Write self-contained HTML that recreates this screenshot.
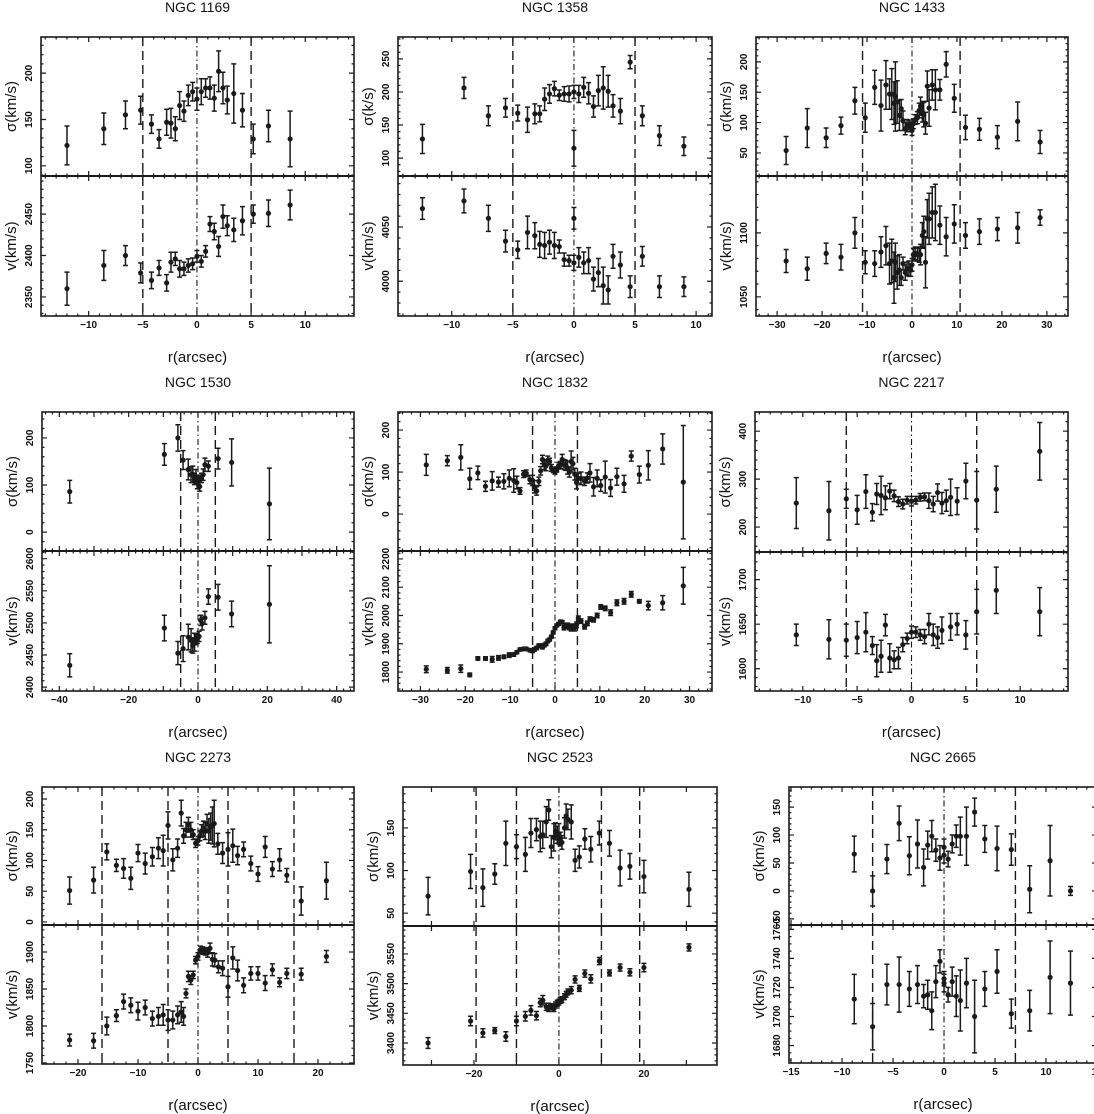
<!DOCTYPE html>
<html><head><meta charset="utf-8">
<style>
html,body{margin:0;padding:0;background:#fff;}
svg{display:block;}
text{font-family:"Liberation Sans",sans-serif;fill:#111;}
.tick{font-size:10px;font-weight:bold;}
.ttl{font-size:14px;}
.lab{font-size:15px;}
</style></head>
<body>
<svg id="fig" width="1094" height="1114" viewBox="0 0 1094 1114" xmlns="http://www.w3.org/2000/svg"></svg>
<script>
// ---- data (r in arcsec, sigma & v in km/s, symmetric errors) ----
const n1169_r    = [-12,-8.6,-6.6,-5.2,-4.2,-3.5,-2.8,-2.4,-2,-1.6,-1.2,-0.8,-0.4,0,0.4,0.8,1.2,1.6,2,2.4,2.8,3.4,4.2,5.2,6.6,8.6];
const n1169_sig  = [122,140,155,160,145,129,147,146,140,165,159,176,180,172,180,184,184,173,202,184,171,178,160,129,143,129];
const n1169_sigE = [21,17,15,15,10,10,14,16,13,15,11,11,10,12,14,10,12,14,22,17,15,32,18,16,17,30];
const n1169_v    = [2360,2388,2400,2379,2370,2385,2367,2392,2396,2384,2384,2388,2390,2399,2393,2405,2438,2429,2411,2447,2436,2431,2442,2450,2451,2461];
const n1169_vE   = [20,18,12,12,10,9,10,12,8,10,8,8,7,7,7,7,9,10,12,14,12,14,17,11,16,18];

const n1358_r    = [-12.4,-9,-7,-5.6,-4.6,-3.8,-3.2,-2.8,-2.4,-2,-1.6,-1.2,-0.8,-0.4,0,0,0.4,0.8,1.2,1.6,2,2.4,2.8,3.2,3.8,4.6,5.6,7,9];
const n1358_sig  = [129,206,164,176,168,158,167,167,189,197,205,195,197,197,200,115,197,207,198,178,202,206,201,179,171,245,164,134,118];
const n1358_sigE = [22,16,15,14,12,19,15,12,17,14,11,8,11,12,10,27,13,15,16,16,23,32,24,17,19,10,15,15,14];
const n1358_v    = [4067,4074,4058,4037,4029,4045,4042,4034,4033,4036,4033,4032,4020,4019,4017,4058,4022,4017,4019,4002,4008,3996,3992,4023,4015,3995,4023,3995,3995];
const n1358_vE   = [10,11,12,10,8,15,12,12,12,11,12,6,6,5,7,10,9,10,12,11,13,17,13,11,12,10,9,10,9];

const n1433_r    = [-28,-23.3,-19.1,-15.8,-12.7,-10.4,-8.3,-6.9,-5.8,-5,-4.5,-4,-3.7,-3.3,-2.8,-2.4,-2,-1.5,-1.1,-0.7,-0.3,0,0.3,0.7,1.2,1.6,1.9,2.3,2.6,3,3.4,3.8,4.5,5.2,6.2,7.6,9.4,11.9,15,19,23.5,28.5];
const n1433_sig  = [54,91,75,95,136,108,158,128,162,147,147,132,143,134,112,123,103,90,95,96,93,87,98,105,108,120,127,118,113,99,160,124,162,154,154,196,140,92,89,76,102,68];
const n1433_sigE = [23,32,16,14,22,24,28,42,40,25,42,35,57,35,25,15,16,10,10,8,8,8,8,8,10,12,15,17,20,18,25,30,25,33,17,21,23,20,18,19,32,19];
const n1433_v    = [1078,1072,1084,1081,1100,1077,1076,1085,1090,1076,1078,1065,1077,1069,1071,1065,1076,1069,1072,1072,1071,1075,1083,1084,1083,1083,1083,1098,1101,1077,1111,1111,1116,1116,1106,1097,1107,1098,1101,1103,1104,1112];
const n1433_vE   = [9,9,8,10,12,9,10,12,15,16,17,20,15,13,12,6,5,6,5,6,5,5,5,5,5,6,8,10,12,20,15,20,20,22,15,15,15,10,10,9,12,6];

const n1530_r    = [-37,-9.7,-5.8,-4.3,-2.8,-2,-1.5,-1,-0.6,-0.2,0.2,0.5,1,1.5,2,3,5.8,9.7,20.6];
const n1530_sig  = [86,165,200,153,133,122,123,113,118,104,109,97,115,122,143,140,156,148,60];
const n1530_sigE = [24,23,28,20,22,17,17,12,15,12,12,10,10,12,14,11,22,50,76];
const n1530_vr   = [-37,-9.7,-5.8,-4.3,-2.8,-2,-1.5,-1,-0.6,-0.2,0.3,0.8,1.2,2,3,5.8,9.7,20.6];
const n1530_v    = [2434,2492,2453,2460,2478,2473,2465,2470,2474,2476,2479,2504,2499,2508,2541,2540,2514,2529];
const n1530_vE   = [18,20,18,20,20,18,12,14,8,8,8,8,10,10,12,20,20,60];

const n1832_r    = [-28.7,-24,-21,-19,-17.2,-15.5,-14,-12.6,-11.4,-10.2,-9.2,-8.5,-7.8,-7,-6.4,-5.6,-5,-4.6,-4.1,-3.6,-3.2,-2.8,-2.4,-2,-1.6,-1.2,-0.8,-0.4,0,0.4,0.8,1.2,1.6,2,2.4,2.8,3.2,3.6,4,4.4,4.8,5.2,5.8,6.6,7.2,7.8,8.6,9.4,10.2,11.2,12.4,13.8,15.4,17,18.8,20.8,24,28.6];
const n1832_sig  = [117,127,135,84,98,66,79,76,78,85,80,75,55,95,97,82,80,65,55,78,103,130,118,115,128,125,110,105,100,106,115,117,130,118,116,110,100,125,120,95,75,85,85,78,86,98,65,85,68,88,62,89,72,138,94,116,155,76];
const n1832_sigE = [25,12,30,25,16,12,22,12,18,20,28,15,8,8,8,10,12,15,10,10,10,10,12,12,10,8,8,6,5,6,8,8,12,12,12,15,12,25,15,14,15,12,15,10,12,22,22,20,14,38,20,20,20,12,20,35,36,135];
const n1832_v    = [1810,1806,1812,1790,1848,1848,1845,1850,1854,1860,1862,1870,1880,1882,1882,1877,1875,1880,1885,1893,1893,1888,1895,1900,1910,1915,1925,1940,1955,1965,1970,1978,1977,1957,1963,1965,1960,1957,1960,1957,1967,1990,1980,1960,1972,1987,1985,2000,2030,2025,2010,2045,2050,2075,2050,2035,2045,2105];
const n1832_vE   = [12,10,13,6,6,6,10,8,6,8,6,5,5,5,5,5,6,6,6,6,6,6,6,6,6,5,5,5,5,5,5,5,5,8,8,8,10,12,10,12,10,8,8,8,8,8,8,8,8,8,10,10,10,10,6,15,25,65];

const n2217_r    = [-10.6,-7.6,-6,-5,-4.2,-3.6,-3.2,-2.8,-2.4,-2,-1.6,-1.2,-0.8,-0.4,0,0.4,0.8,1.2,1.6,2,2.4,2.8,3.2,3.6,4.2,5,6,7.8,11.8];
const n2217_sig  = [250,234,259,236,274,231,269,266,261,275,265,253,248,256,254,256,262,263,255,248,272,250,255,262,254,296,256,279,358];
const n2217_sigE = [53,61,20,30,35,18,22,40,25,16,12,10,10,8,10,8,8,8,16,16,18,22,22,38,28,37,60,48,60];
const n2217_vr   = [-10.6,-7.6,-6,-5,-4.2,-3.6,-3.2,-2.8,-2.4,-2,-1.6,-1.2,-0.8,-0.4,0,0.4,0.8,1.2,1.6,2,2.4,2.8,3.6,4.2,5,6,7.8,11.8];
const n2217_v    = [1638,1633,1632,1635,1641,1626,1609,1614,1649,1612,1610,1612,1627,1634,1641,1641,1638,1636,1650,1638,1635,1643,1647,1650,1638,1664,1688,1664];
const n2217_vE   = [12,22,18,18,22,10,18,18,12,16,10,12,8,6,7,6,6,8,12,12,12,15,15,12,16,25,26,27];

const n2273_r    = [-21.4,-17.4,-15.2,-13.6,-12.4,-11.2,-10,-8.8,-7.6,-6.6,-5.8,-5,-4.2,-3.4,-2.8,-2.4,-2,-1.6,-1.2,-0.8,-0.4,0,0.3,0.6,0.9,1.2,1.5,1.8,2.1,2.4,2.7,3.3,4.1,5,5.8,6.6,7.6,8.8,10,11.2,12.4,13.6,14.8,17.2,21.4];
const n2273_sig  = [51,68,114,92,87,71,112,95,106,120,116,157,101,120,177,140,150,158,150,142,128,132,140,148,152,148,160,148,155,157,160,127,112,118,124,108,118,95,78,122,86,101,76,34,67];
const n2273_sigE = [22,21,13,10,16,18,14,17,15,17,25,22,18,15,21,12,12,12,12,8,7,7,8,10,12,14,15,20,22,30,38,17,17,27,27,15,12,12,12,17,12,18,11,23,30];
const n2273_vr   = [-21.4,-17.4,-15.2,-13.6,-12.4,-11.2,-10,-8.8,-7.6,-6.6,-5.8,-5,-4.2,-3.4,-2.8,-2.4,-2,-1.6,-1.2,-0.8,-0.4,0,0.4,0.8,1.2,1.6,2,2.4,2.8,3.4,4.1,5,5.8,6.6,7.6,8.8,10,11.2,12.4,13.6,14.8,17.2,21.4];
const n2273_v    = [1781,1780,1800,1814,1833,1828,1820,1825,1810,1813,1815,1808,1808,1815,1819,1813,1844,1867,1862,1869,1889,1894,1903,1902,1901,1899,1905,1890,1889,1880,1878,1853,1892,1875,1855,1871,1871,1858,1876,1859,1871,1870,1894];
const n2273_vE   = [8,10,12,8,10,10,12,10,10,12,14,14,12,12,14,12,6,7,6,5,5,5,5,5,5,6,7,9,9,8,10,14,15,14,10,9,9,10,8,6,7,8,8];

const n2523_r    = [-30.8,-20.8,-17.9,-15.1,-12.5,-10,-7.9,-6.6,-5.3,-4.4,-3.8,-3,-2.4,-1.8,-1.2,-0.8,-0.4,0,0.3,0.7,1.3,1.7,2.1,2.9,3.8,4.8,6.1,7.5,9.5,11.9,14.4,16.7,20,30.6];
const n2523_sig  = [70,99,80,96,132,128,119,144,148,140,142,157,171,128,139,146,142,143,137,133,150,164,160,157,112,116,137,125,144,132,103,105,93,78];
const n2523_sigE = [22,20,22,12,26,14,20,17,13,18,16,18,12,13,16,10,10,12,8,8,12,14,12,20,13,13,12,15,14,15,21,15,19,20];
const n2523_v    = [3400,3437,3417,3421,3411,3437,3445,3455,3446,3468,3472,3461,3460,3461,3458,3464,3467,3469,3472,3473,3478,3482,3486,3489,3507,3492,3517,3508,3538,3518,3527,3519,3527,3561];
const n2523_vE   = [9,8,7,5,8,8,8,8,7,7,8,6,7,5,5,5,5,5,5,5,5,5,5,6,6,5,6,7,6,5,6,6,7,6];

const n2665_r    = [-8.8,-7,-5.6,-4.4,-3.4,-2.6,-2,-1.6,-1.2,-0.8,-0.4,0,0,0.4,0.8,1.2,1.6,2.2,3,4,5.2,6.6,8.4,10.4,12.4];
const n2665_sig  = [66,0,57,121,63,84,42,82,98,73,59,78,64,57,84,98,98,98,141,93,76,74,3,54,0];
const n2665_sigE = [32,27,26,31,34,43,33,25,28,20,22,15,14,14,16,20,34,52,25,24,40,28,42,63,8];
const n2665_v    = [1712,1693,1722,1722,1719,1722,1714,1715,1704,1724,1738,1726,1723,1715,1724,1714,1711,1723,1700,1719,1731,1702,1704,1727,1723];
const n2665_vE   = [17,16,14,19,12,13,8,10,13,11,8,5,6,5,10,14,21,17,25,12,15,10,14,25,22];

// ---- panel layout (pixel geometry + axis ranges) ----
const panels = [
 {id:'ngc-1169',title:'NGC 1169',L:41,R:354,T:37,M:176,B:316,x:[-14.4,14.5],xs:[5,1,5],s:[89,239],ss:[50,10],v:[2327,2496],vs:[50,10],sl:'σ(km/s)',
  r:n1169_r,sig:n1169_sig,sigE:n1169_sigE,vr:n1169_r,vv:n1169_v,vE:n1169_vE,dash:[-5,5]},
 {id:'ngc-1358',title:'NGC 1358',L:398,R:712,T:37,M:176,B:316,x:[-14.4,11.3],xs:[5,1,5],s:[73,283],ss:[50,10],v:[3968,4097],vs:[50,10],sl:'σ(k/s)',
  r:n1358_r,sig:n1358_sig,sigE:n1358_sigE,vr:n1358_r,vv:n1358_v,vE:n1358_vE,dash:[-5,5]},
 {id:'ngc-1433',title:'NGC 1433',L:756,R:1068,T:37,M:176,B:316,x:[-34.7,34.7],xs:[10,2,10],s:[12,241],ss:[50,10],v:[1035,1144.5],vs:[50,10],sl:'σ(km/s)',
  r:n1433_r,sig:n1433_sig,sigE:n1433_sigE,vr:n1433_r,vv:n1433_v,vE:n1433_vE,dash:[-11,10.7]},
 {id:'ngc-1530',title:'NGC 1530',L:42,R:354,T:412,M:551,B:691,x:[-45,45],xs:[10,2,20],s:[-40,255],ss:[100,20],v:[2394,2612],vs:[50,10],sl:'σ(km/s)',
  r:n1530_r,sig:n1530_sig,sigE:n1530_sigE,vr:n1530_vr,vv:n1530_v,vE:n1530_vE,dash:[-5,5]},
 {id:'ngc-1832',title:'NGC 1832',L:398,R:712,T:412,M:551,B:691,x:[-35,35],xs:[10,2,10],s:[-88,243],ss:[100,20],v:[1733,2228],vs:[100,20],sl:'σ(km/s)',
  r:n1832_r,sig:n1832_sig,sigE:n1832_sigE,vr:n1832_r,vv:n1832_v,vE:n1832_vE,dash:[-5,5]},
 {id:'ngc-2217',title:'NGC 2217',L:755,R:1068,T:412,M:552,B:691,x:[-14.4,14.4],xs:[5,1,5],s:[148,440],ss:[100,20],v:[1575,1731],vs:[50,10],sl:'σ(km/s)',
  r:n2217_r,sig:n2217_sig,sigE:n2217_sigE,vr:n2217_vr,vv:n2217_v,vE:n2217_vE,dash:[-6,6]},
 {id:'ngc-2273',title:'NGC 2273',L:42,R:354,T:787,M:925,B:1064,x:[-26,26],xs:[10,2,10],s:[-5,219.5],ss:[50,10],v:[1748.6,1936.5],vs:[50,10],sl:'σ(km/s)',
  r:n2273_r,sig:n2273_sig,sigE:n2273_sigE,vr:n2273_vr,vv:n2273_v,vE:n2273_vE,dash:[-16,-5,5,16]},
 {id:'ngc-2523',title:'NGC 2523',L:403,R:717,T:787,M:926,B:1065,x:[-36.7,37.2],xs:[10,0,20],s:[35,198],ss:[50,10],v:[3363,3597],vs:[50,10],sl:'σ(km/s)',
  r:n2523_r,sig:n2523_sig,sigE:n2523_sigE,vr:n2523_r,vv:n2523_v,vE:n2523_vE,dash:[-19.5,-10,10,19]},
 {id:'ngc-2665',title:'NGC 2665',L:789,R:1097,T:787,M:925,B:1063,x:[-15.2,15],xs:[5,1,5],s:[-61,186],ss:[50,10],v:[1668,1763],vs:[20,5],sl:'σ(km/s)',
  r:n2665_r,sig:n2665_sig,sigE:n2665_sigE,vr:n2665_r,vv:n2665_v,vE:n2665_vE,dash:[-7,7]}
];

const NS='http://www.w3.org/2000/svg';
const svg=document.getElementById('fig');
function mk(tag,attrs,parent){const e=document.createElementNS(NS,tag);for(const k in attrs)e.setAttribute(k,attrs[k]);(parent||svg).appendChild(e);return e;}
const C='#1a1a1a';

panels.forEach(p=>{
  const g=mk('g',{});
  
  
  const X=r=>p.L+(r-p.x[0])/(p.x[1]-p.x[0])*(p.R-p.L);
  const YS=s=>p.M-(s-p.s[0])/(p.s[1]-p.s[0])*(p.M-p.T);
  const YV=v=>p.B-(v-p.v[0])/(p.v[1]-p.v[0])*(p.B-p.M);
  const cx=(p.L+Math.min(p.R,1094))/2;
  // title
  const t=mk('text',{x:(p.L+p.R)/2,y:p.T-25,'text-anchor':'middle',class:'ttl'},g);t.textContent=p.title;
  
  
  // x label
  const xl=mk('text',{x:(p.L+p.R)/2,y:p.B+46,'text-anchor':'middle',class:'lab'},g);xl.textContent='r(arcsec)';
  
  
  // y labels
  [[p.sl,(p.T+p.M)/2,'sigma-axis-title'],['v(km/s)',(p.M+p.B)/2,'velocity-axis-title']].forEach(a=>{
    const yl=mk('text',{x:p.L-30,y:a[1],'text-anchor':'middle',transform:`rotate(-90 ${p.L-30} ${a[1]})`,class:'lab',dy:'5'},g);
    yl.textContent=a[0];
    
    
  });
  // frame
  const fr=mk('rect',{x:p.L,y:p.T,width:p.R-p.L,height:p.B-p.T,fill:'none',stroke:C,'stroke-width':1.6},g);
  
  
  const ml=mk('line',{x1:p.L,x2:p.R,y1:p.M,y2:p.M,stroke:C,'stroke-width':2},g);
  
  
  // x ticks
  const [maj,mnr,lab]=p.xs;
  const tk=[];
  function xt(step,len){ if(!step)return; for(let r=Math.ceil(p.x[0]/step)*step;r<=p.x[1]+1e-9;r+=step){const x=X(r);
    tk.push(`M${x} ${p.T}v${len}M${x} ${p.B}v${-len}M${x} ${p.M-len}v${2*len}`);}}
  xt(mnr,2.5);xt(maj,5);
  for(let r=Math.ceil(p.x[0]/lab)*lab;r<=p.x[1]+1e-9;r+=lab){
    const tl=mk('text',{x:X(r),y:p.B+12,'text-anchor':'middle',class:'tick'},g);
    tl.textContent=(r<0?'−':'')+Math.abs(Math.round(r));
    
    
  }
  // y ticks
  function yt(rng,st,Y,y0,y1){
    const [mj,mn]=st;
    for(let s=Math.ceil(rng[0]/mn)*mn;s<=rng[1]+1e-9;s+=mn){const y=Y(s);if(y<y0-0.5||y>y1+0.5)continue;const len=(Math.abs(s/mj-Math.round(s/mj))<1e-6)?5:2.5;
      tk.push(`M${p.L} ${y}h${len}M${p.R} ${y}h${-len}`);}
    for(let s=Math.ceil(rng[0]/mj)*mj;s<=rng[1]+1e-9;s+=mj){const y=Y(s);
      const tl=mk('text',{x:p.L-9,y:y,'text-anchor':'middle',transform:`rotate(-90 ${p.L-9} ${y})`,class:'tick'},g);
      tl.textContent=(s<0?'−':'')+Math.abs(Math.round(s));
      
      }
  }
  yt(p.s,p.ss,YS,p.T,p.M);yt(p.v,p.vs,YV,p.M,p.B);
  const tp=mk('path',{d:tk.join(''),stroke:C,'stroke-width':1.2,fill:'none'},g);
  
  
  // reference lines
  const dc=mk('line',{x1:X(0),x2:X(0),y1:p.T,y2:p.B,stroke:C,'stroke-width':1.1,'stroke-dasharray':'6 3 1.5 3'},g);
  
  
  p.dash.forEach(d=>{const dl=mk('line',{x1:X(d),x2:X(d),y1:p.T,y2:p.B,stroke:C,'stroke-width':1.4,'stroke-dasharray':'9 5'},g);
    
    });
  // series
  function series(rs,vals,errs,Y,name){
    const sg=mk('g',{},g);
    
    
    const d=[];
    rs.forEach((r,i)=>{const x=X(r),y=Y(vals[i]),y1=Y(vals[i]-errs[i]),y2=Y(vals[i]+errs[i]);
      d.push(`M${x} ${y1}V${y2}M${x-2.5} ${y1}h5M${x-2.5} ${y2}h5`);
      const c=mk('circle',{cx:x,cy:y,r:2.6,fill:C},sg);
      
      });
    const eb=mk('path',{d:d.join(''),stroke:C,'stroke-width':1.5,fill:'none'},sg);
    
    
  }
  series(p.r,p.sig,p.sigE,YS,'sigma-series');
  series(p.vr,p.vv,p.vE,YV,'velocity-series');
});
</script>
</body></html>
